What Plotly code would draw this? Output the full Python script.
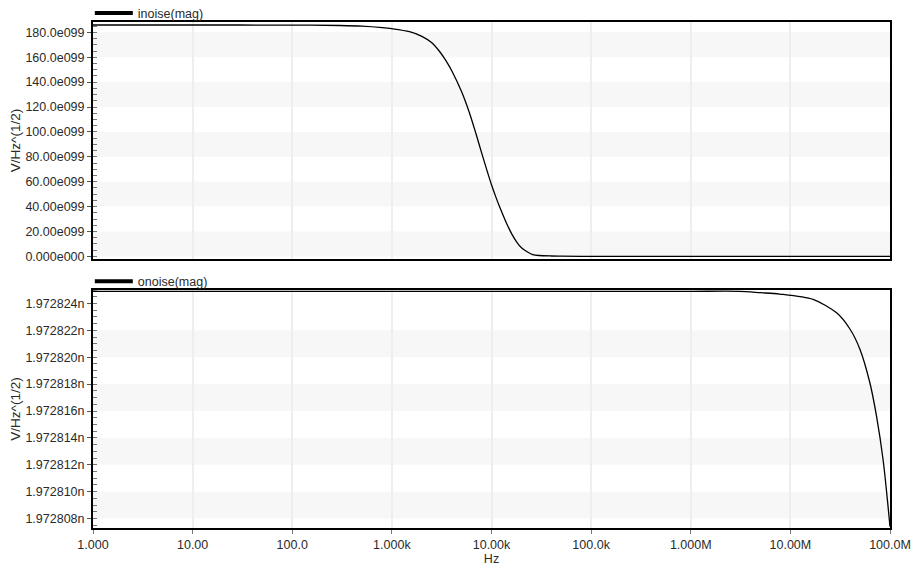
import plotly.graph_objects as go

# ---- data ----
# inoise(mag), values in units of 1e99 V/Hz^(1/2)
inoise_freq = [1, 10, 100, 300, 500, 800, 1000, 1500, 2000, 2500, 3000, 3500, 4000,
               5000, 6000, 7000, 8000, 9000, 10000, 11000, 12000, 14000, 16000,
               18000, 20000, 23000, 26000, 30000, 40000, 50000, 1e5, 1e6, 1e7, 1e8]
inoise_mag = [185.9, 185.9, 185.8, 185.5, 185.0, 183.8, 182.9, 180.5, 176.8, 171.8,
              164.8, 157.0, 148.9, 132.4, 115.4, 98.3, 82.6, 69.1, 57.6, 48.2, 40.2,
              27.5, 17.9, 11.3, 6.9, 3.5, 1.4, 0.7, 0.3, 0.15, 0.05, 0.02, 0.02, 0.02]

# onoise(mag), values in nV/Hz^(1/2)
onoise_freq = [1, 10, 100, 1e3, 1e4, 1e5, 1e6, 3.1e6, 5e6, 7.8e6, 1.69e7, 2.91e7,
               3.96e7, 4.99e7, 6.28e7, 7.33e7, 8.55e7, 9.59e7, 1e8]
onoise_mag = [1.9728249, 1.9728249, 1.9728249, 1.9728249, 1.9728249, 1.9728249,
              1.9728249, 1.9728249, 1.9728248, 1.9728247, 1.9728243, 1.9728233,
              1.9728221, 1.9728206, 1.9728181, 1.9728156, 1.9728123, 1.9728088,
              1.9728074]

x_tickvals = [1, 10, 100, 1e3, 1e4, 1e5, 1e6, 1e7, 1e8]
x_ticktext = ["1.000", "10.00", "100.0", "1.000k", "10.00k", "100.0k",
              "1.000M", "10.00M", "100.0M"]

top_tickvals = [0, 20, 40, 60, 80, 100, 120, 140, 160, 180]
top_ticktext = ["0.000e000", "20.00e099", "40.00e099", "60.00e099", "80.00e099",
                "100.0e099", "120.0e099", "140.0e099", "160.0e099", "180.0e099"]

bot_tickvals = [1.972808, 1.972810, 1.972812, 1.972814, 1.972816,
                1.972818, 1.972820, 1.972822, 1.972824]
bot_ticktext = ["1.972808n", "1.972810n", "1.972812n", "1.972814n", "1.972816n",
                "1.972818n", "1.972820n", "1.972822n", "1.972824n"]

top_range = [-2.1, 188.3]
bot_range = [1.9728073, 1.9728250]

# ---- layout geometry ----
W, H = 914, 568
ML, MR, MT, MB = 93, 24, 22, 40
PH = H - MT - MB
top_dom = [(528 - 259) / PH, 1.0]
bot_dom = [0.0, (528 - 290) / PH]

FONT = "Liberation Sans, Arial, sans-serif"
TXT = "#2a2a2a"
FS = 12.5

fig = go.Figure()

fig.add_trace(go.Scatter(x=inoise_freq, y=inoise_mag, mode="lines",
                         line=dict(color="black", width=1.3, shape="spline", smoothing=0.8),
                         xaxis="x", yaxis="y", showlegend=False, hoverinfo="skip"))
fig.add_trace(go.Scatter(x=onoise_freq, y=onoise_mag, mode="lines",
                         line=dict(color="black", width=1.3, shape="spline", smoothing=0.8),
                         xaxis="x2", yaxis="y2", showlegend=False, hoverinfo="skip"))

# legend swatches
fig.add_trace(go.Scatter(x=[None], y=[None], mode="lines", name="inoise(mag)",
                         line=dict(color="black", width=4),
                         xaxis="x", yaxis="y", legend="legend"))
fig.add_trace(go.Scatter(x=[None], y=[None], mode="lines", name="onoise(mag)",
                         line=dict(color="black", width=4),
                         xaxis="x2", yaxis="y2", legend="legend2"))

# alternating light bands between major ticks
shapes = []
for i in range(0, len(top_tickvals) - 1, 2):
    shapes.append(dict(type="rect", xref="x domain", yref="y", x0=0, x1=1,
                       y0=top_tickvals[i], y1=top_tickvals[i + 1],
                       fillcolor="#f7f7f7", line=dict(width=0), layer="below"))
for i in range(0, len(bot_tickvals) - 1, 2):
    shapes.append(dict(type="rect", xref="x2 domain", yref="y2", x0=0, x1=1,
                       y0=bot_tickvals[i], y1=bot_tickvals[i + 1],
                       fillcolor="#f7f7f7", line=dict(width=0), layer="below"))

common_x = dict(type="log", range=[0, 8], tickmode="array", tickvals=x_tickvals,
                ticktext=x_ticktext, showgrid=True, gridcolor="#eeeeee", gridwidth=1.5,
                showline=True, linecolor="black", linewidth=2, mirror=True,
                zeroline=False, tickfont=dict(family=FONT, size=FS, color=TXT))

common_y = dict(tickmode="array", showgrid=False, zeroline=False,
                showline=True, linecolor="black", linewidth=2, mirror=True,
                ticks="outside", ticklen=4, tickcolor="#555",
                tickfont=dict(family=FONT, size=FS, color=TXT),
                title=dict(text="V/Hz^(1/2)", font=dict(family=FONT, size=13.5, color=TXT),
                           standoff=2))

legend_common = dict(x=-0.004, xanchor="left", yanchor="middle",
                     bgcolor="rgba(0,0,0,0)", borderwidth=0, itemwidth=38,
                     font=dict(family=FONT, size=FS, color=TXT))

fig.update_layout(
    width=W, height=H,
    margin=dict(l=ML, r=MR, t=MT, b=MB, autoexpand=False),
    paper_bgcolor="white", plot_bgcolor="white",
    font=dict(family=FONT, size=FS, color=TXT),
    shapes=shapes,
    xaxis=dict(common_x, anchor="y", domain=[0, 1], showticklabels=False,
               ticks=""),
    yaxis=dict(common_y, domain=top_dom, range=top_range,
               tickvals=top_tickvals, ticktext=top_ticktext,
               minor=dict(tickmode="linear", tick0=0, dtick=5, ticks="inside",
                          ticklen=4, tickcolor="#777", showgrid=False)),
    xaxis2=dict(common_x, anchor="y2", domain=[0, 1], matches="x",
                ticks="outside", ticklen=4, tickcolor="#777",
                title=dict(text="Hz", font=dict(family=FONT, size=FS, color=TXT),
                           standoff=0)),
    yaxis2=dict(common_y, domain=bot_dom, range=bot_range,
                tickvals=bot_tickvals, ticktext=bot_ticktext,
                minor=dict(tickmode="linear", tick0=1.972808, dtick=0.0000005,
                           ticks="inside", ticklen=4, tickcolor="#777", showgrid=False)),
    legend=dict(legend_common, y=(528 - 13.3) / PH),
    legend2=dict(legend_common, y=(528 - 281.7) / PH),
)

fig.write_html("out.html")
